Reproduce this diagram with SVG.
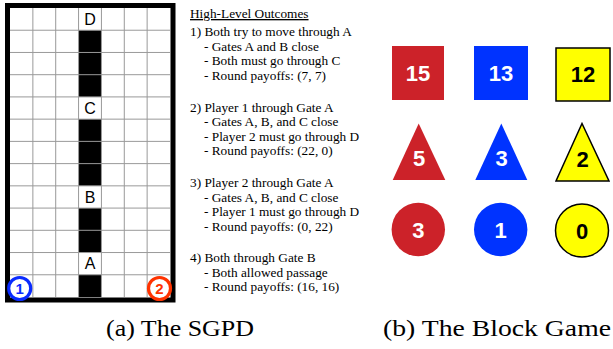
<svg xmlns="http://www.w3.org/2000/svg" width="613" height="349" viewBox="0 0 613 349">
<style>
.gl{stroke:#999;stroke-width:1}
.blk{fill:#000}
.gate{font-family:"Liberation Sans",Arial,sans-serif;font-size:16px;fill:#000;text-anchor:middle}
.pl{font-family:"Liberation Sans",Arial,sans-serif;font-size:15px;font-weight:bold;text-anchor:middle}
.out{font-family:"Liberation Serif","Times New Roman",serif;font-size:13.3px;fill:#000}
.num{font-family:"Liberation Sans",Arial,sans-serif;font-size:22px;font-weight:bold;text-anchor:middle}
.w{fill:#fff}
.k{fill:#000}
.red{fill:#CC2229}
.blue{fill:#0033FF}
.yel{fill:#FFFF00;stroke:#000;stroke-width:1.5}
.cap{font-family:"Liberation Serif","Times New Roman",serif;font-size:23px;fill:#000}
</style>
<rect width="613" height="349" fill="#fff"/>
<g id="grid">
<rect x="10" y="8" width="160" height="289" fill="#fff"/>
<rect class="blk" x="78.57" y="30.23" width="22.86" height="66.69"/>
<rect class="blk" x="78.57" y="119.15" width="22.86" height="66.7"/>
<rect class="blk" x="78.57" y="208.08" width="22.86" height="44.46"/>
<rect class="blk" x="78.57" y="274.77" width="22.86" height="22.23"/>
<g class="gl">
<line x1="32.86" y1="8" x2="32.86" y2="297"/>
<line x1="55.71" y1="8" x2="55.71" y2="297"/>
<line x1="78.57" y1="8" x2="78.57" y2="297"/>
<line x1="101.43" y1="8" x2="101.43" y2="297"/>
<line x1="124.29" y1="8" x2="124.29" y2="297"/>
<line x1="147.14" y1="8" x2="147.14" y2="297"/>
<line x1="10" y1="30.23" x2="170" y2="30.23"/>
<line x1="10" y1="52.46" x2="170" y2="52.46"/>
<line x1="10" y1="74.69" x2="170" y2="74.69"/>
<line x1="10" y1="96.92" x2="170" y2="96.92"/>
<line x1="10" y1="119.15" x2="170" y2="119.15"/>
<line x1="10" y1="141.38" x2="170" y2="141.38"/>
<line x1="10" y1="163.62" x2="170" y2="163.62"/>
<line x1="10" y1="185.85" x2="170" y2="185.85"/>
<line x1="10" y1="208.08" x2="170" y2="208.08"/>
<line x1="10" y1="230.31" x2="170" y2="230.31"/>
<line x1="10" y1="252.54" x2="170" y2="252.54"/>
<line x1="10" y1="274.77" x2="170" y2="274.77"/>
</g>
<rect x="7.5" y="5.5" width="165.5" height="294.5" fill="none" stroke="#000" stroke-width="5"/>
<text class="gate" x="90" y="25">D</text>
<text class="gate" x="90" y="113.8">C</text>
<text class="gate" x="90" y="202.7">B</text>
<text class="gate" x="90" y="269.4">A</text>
</g>
<g id="player1">
<circle cx="19.7" cy="288.5" r="11" fill="#fff" stroke="#0A2BFF" stroke-width="3.2"/>
<text class="pl" x="19.7" y="293.8" fill="#0A2BFF">1</text>
</g>
<g id="player2">
<circle cx="159.5" cy="288.5" r="11" fill="#fff" stroke="#FF3300" stroke-width="3.2"/>
<text class="pl" x="159.5" y="293.8" fill="#FF3300">2</text>
</g>
<g id="outcomes" class="out">
<text x="190" y="18" text-decoration="underline">High-Level Outcomes</text>
<text x="190" y="36">1) Both try to move through A</text>
<text x="204" y="50.5">- Gates A and B close</text>
<text x="204" y="65">- Both must go through C</text>
<text x="204" y="80">- Round payoffs: (7, 7)</text>
<text x="190" y="111.5">2) Player 1 through Gate A</text>
<text x="204" y="126">- Gates A, B, and C close</text>
<text x="204" y="140.5">- Player 2 must go through D</text>
<text x="204" y="155">- Round payoffs: (22, 0)</text>
<text x="190" y="187">3) Player 2 through Gate A</text>
<text x="204" y="201.5">- Gates A, B, and C close</text>
<text x="204" y="216">- Player 1 must go through D</text>
<text x="204" y="231">- Round payoffs: (0, 22)</text>
<text x="190" y="261.5">4) Both through Gate B</text>
<text x="204" y="276.5">- Both allowed passage</text>
<text x="204" y="291">- Round payoffs: (16, 16)</text>
</g>
<g id="block-red-square"><rect class="red" x="392" y="46" width="52" height="54"/><text class="num w" x="418" y="81">15</text></g>
<g id="block-blue-square"><rect class="blue" x="474" y="46" width="54" height="54"/><text class="num w" x="501" y="81">13</text></g>
<g id="block-yellow-square"><rect class="yel" x="556" y="48" width="54" height="53"/><text class="num k" x="583" y="82">12</text></g>
<g id="block-red-triangle"><polygon class="red" points="418.7,123.5 392.7,180 445.3,180"/><text class="num w" x="419" y="166">5</text></g>
<g id="block-blue-triangle"><polygon class="blue" points="501.3,123.5 475.3,180 527.3,180"/><text class="num w" x="501.5" y="166">3</text></g>
<g id="block-yellow-triangle"><polygon class="yel" points="582,123.5 556,181 609,181"/><text class="num k" x="582.5" y="166.5">2</text></g>
<g id="block-red-circle"><circle class="red" cx="418.3" cy="229.5" r="26.7"/><text class="num w" x="418.3" y="237.5">3</text></g>
<g id="block-blue-circle"><circle class="blue" cx="500.7" cy="229.5" r="26.7"/><text class="num w" x="500.7" y="237.5">1</text></g>
<g id="block-yellow-circle"><circle class="yel" cx="582" cy="230.5" r="26.5"/><text class="num k" x="582" y="238.5">0</text></g>
<g id="captions">
<text class="cap" x="106" y="336" textLength="148" lengthAdjust="spacingAndGlyphs">(a) The SGPD</text>
<text class="cap" x="383" y="336" textLength="228" lengthAdjust="spacingAndGlyphs">(b) The Block Game</text>
</g>
</svg>
